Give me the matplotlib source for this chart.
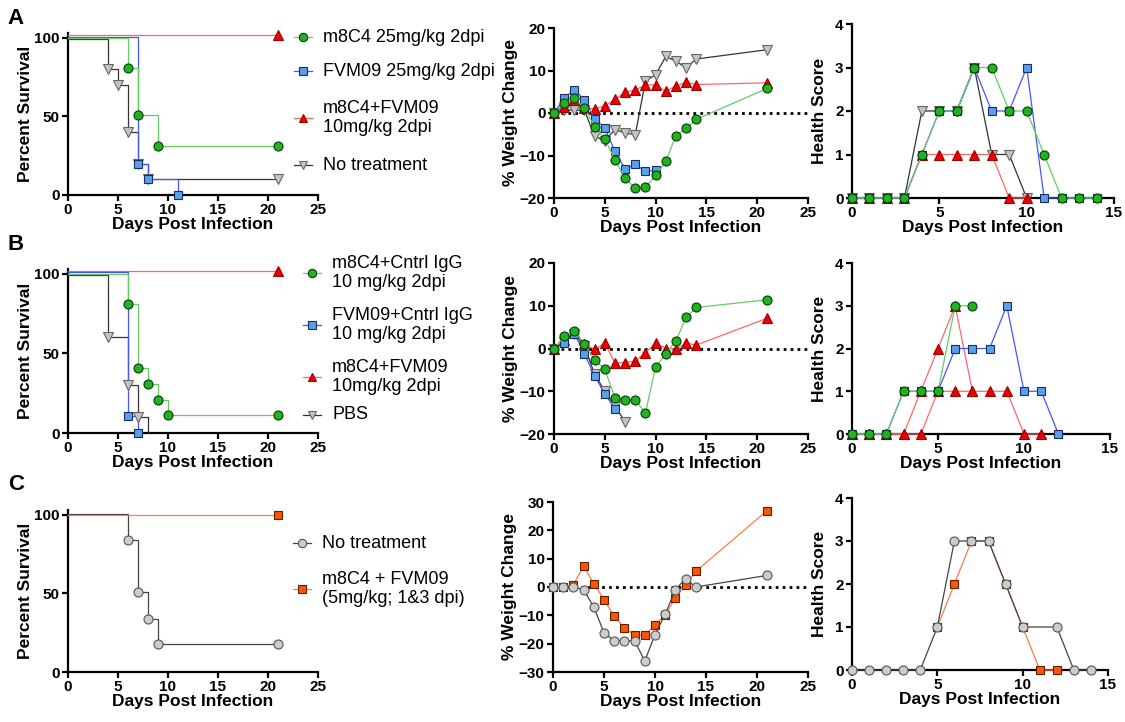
import numpy as np
import matplotlib.pyplot as plt
from matplotlib.lines import Line2D

plt.rcParams['font.family'] = ['Liberation Sans', 'DejaVu Sans']

# ---------------- data ----------------
# survival (step curves): event days and percent survival
a_s_m8c4_t = [0, 6, 7, 9, 21]
a_s_m8c4 = [100, 81, 51, 31, 31]
a_s_fvm_t = [0, 7, 8, 11]
a_s_fvm = [100.5, 20, 10, 0]
a_s_combo_t = [0, 21]
a_s_combo = [102, 102]
a_s_none_t = [0, 4, 5, 6, 7, 8, 21]
a_s_none = [99, 80, 70, 40, 20, 10, 10]

b_s_m8c4_t = [0, 6, 7, 8, 9, 10, 21]
b_s_m8c4 = [100, 81, 41, 31, 21, 11, 11]
b_s_fvm_t = [0, 6, 7]
b_s_fvm = [101, 10.5, 0]
b_s_combo_t = [0, 21]
b_s_combo = [102, 102]
b_s_pbs_t = [0, 4, 6, 7, 8]
b_s_pbs = [99, 60, 30, 10, 0]

c_s_none_t = [0, 6, 7, 8, 9, 21]
c_s_none = [100.5, 84, 51, 34, 17.5, 17.5]
c_s_combo_t = [0, 21]
c_s_combo = [100, 100]

# weight change (%)
wdays = list(range(15)) + [21]
a_w_m8c4 = [0, 2.4, 3.5, 1.2, -3.3, -6.1, -11, -15.4, -17.7, -17.5, -14.7, -11.4, -5.3, -3.6, -1.5, 5.8]
a_w_fvm = [0, 3.5, 5.5, 3.1, -1.3, -3.5, -9, -13.1, -12.1, -13.7, -13.5]
a_w_combo = [0, 1.3, 3.0, 1.2, 1.0, 1.7, 3.2, 4.9, 5.4, 6.6, 6.6, 5.1, 6.4, 7.2, 6.7, 7.1]
a_w_none = [0, 0.8, 0.6, 0.6, -5.5, -6.5, -3.9, -4.7, -5.1, 7.5, 9.0, 13.3, 12.2, 10.6, 12.7, 14.9]

b_w_m8c4 = [0, 2.9, 4.2, 1.0, -2.6, -4.9, -11.5, -12, -12, -15.1, -4.3, -1.3, 1.8, 7.3, 9.6, 11.4]
b_w_fvm = [0, 1.2, 3.5, -1.3, -6.4, -10.6, -14.1]
b_w_combo = [0, 2.0, 3.8, 1.0, -0.2, 1.2, -3.4, -3.3, -2.9, -1.0, 1.2, 0, -0.2, 1.3, 0.8, 7.1]
b_w_pbs = [0, 1.5, 3.5, 0.5, -6.0, -10.0, -13.5, -17.1]

c_w_combo = [0, 0, 0.8, 7.4, 1.2, -4.5, -10.2, -14.5, -16.8, -17.1, -13.3, -10, -3.8, 0.8, 5.5, 27]
c_w_none = [0, 0, 0, -0.9, -7.1, -16.1, -19, -19, -19, -26.1, -16.8, -9.6, -0.9, 2.9, 0, 4.1]

# health score
hdays = list(range(15))
a_h_m8c4 = [0, 0, 0, 0, 1, 2, 2, 3, 3, 2, 2, 1, 0, 0, 0]
a_h_fvm = [0, 0, 0, 0, 1, 2, 2, 3, 2, 2, 3, 0, 0, 0, 0]
a_h_combo = [0, 0, 0, 0, 1, 1, 1, 1, 1, 0, 0]
a_h_none = [0, 0, 0, 0, 2, 2, 2, 3, 1, 1, 0]

b_h_m8c4 = [0, 0, 0, 1, 1, 1, 3, 3]
b_h_fvm = [0, 0, 0, 1, 1, 1, 2, 2, 2, 3, 1, 1, 0]
b_h_combo = [0, 0, 0, 0, 0, 1, 1, 1, 1, 1, 0, 0]
b_h_pbs = [0, 0, 0, 0, 1, 2, 3, 1]

c_h_none_d = [0, 1, 2, 3, 4, 5, 6, 7, 8, 9, 10, 12, 13, 14]
c_h_none = [0, 0, 0, 0, 0, 1, 3, 3, 3, 2, 1, 1, 0, 0]
c_h_combo_d = [5, 6, 7, 8, 9, 10, 11, 12]
c_h_combo = [1, 2, 3, 3, 2, 1, 0, 0]

leg_a = ['m8C4 25mg/kg 2dpi', 'FVM09 25mg/kg 2dpi', 'm8C4+FVM09\n10mg/kg 2dpi', 'No treatment']
leg_b = ['m8C4+Cntrl IgG\n10 mg/kg 2dpi', 'FVM09+Cntrl IgG\n10 mg/kg 2dpi', 'm8C4+FVM09\n10mg/kg 2dpi', 'PBS']
leg_c = ['No treatment', 'm8C4 + FVM09\n(5mg/kg; 1&3 dpi)']

# ---------------- styles ----------------
GREEN = dict(marker='o', mfc='#1fb31f', mec='#0a3a0a', color='#66cc66', ms=6.5)
BLUE = dict(marker='s', mfc='#57a0ee', mec='#1c2c5c', color='#4455ff', ms=6)
RED = dict(marker='^', mfc='#ee0000', mec='#990000', color='#ff6666', ms=6.5)
GRAY = dict(marker='v', mfc='#c4c4c4', mec='#666666', color='#333333', ms=6.5)
GRAYC = dict(marker='o', mfc='#cccccc', mec='#555555', color='#444444', ms=6.5)
ORANGE = dict(marker='s', mfc='#ff5500', mec='#5a2000', color='#ff7a45', ms=6)

fig = plt.figure(figsize=(11.25, 7.22), dpi=100)
W, H = 1125.0, 722.0


def make_ax(x0, x1, ytop, ybot):
    return fig.add_axes([x0 / W, 1 - ybot / H, (x1 - x0) / W, (ybot - ytop) / H])


def style(ax, xmax, ylim, yticks, ylabel, lp):
    ax.spines[['top', 'right']].set_visible(False)
    for s in ['left', 'bottom']:
        ax.spines[s].set_linewidth(1.6)
    ax.set_xlim(0, xmax)
    ax.set_ylim(*ylim)
    ax.set_xticks(np.arange(0, xmax + 1, 5))
    ax.set_yticks(yticks)
    ax.tick_params(width=1.6, length=4, labelsize=11, pad=2)
    for lab in ax.get_xticklabels() + ax.get_yticklabels():
        lab.set_fontweight('bold')
    ax.set_xlabel('Days Post Infection', fontsize=12.5, fontweight='bold', labelpad=0)
    ax.set_ylabel(ylabel, fontsize=12.5, fontweight='bold', labelpad=lp)


def surv(ax, t, v, st, nmark=None):
    ax.step(t, v, where='post', color=st['color'], lw=0.9, clip_on=False, zorder=3)
    k = len(t) if nmark is None else nmark + 1
    ax.plot(t[1:k], v[1:k], ls='none', marker=st['marker'], ms=st['ms'], mfc=st['mfc'],
            mec=st['mec'], mew=0.8, clip_on=False, zorder=4)


def line(ax, x, y, st, z=3):
    ax.plot(x, y, color=st['color'], lw=0.9, marker=st['marker'], ms=st['ms'], mfc=st['mfc'],
            mec=st['mec'], mew=0.8, clip_on=False, zorder=z)


def zero(ax):
    ax.plot([0, 25], [0, 0], color='black', lw=2, ls=(0, (1, 1.5)), zorder=2)


def legend_entry(x, y, label, st):
    fig.add_artist(Line2D([(x - 9) / W, (x + 9) / W], [1 - y / H, 1 - y / H],
                          color=st['color'], lw=0.9))
    fig.add_artist(Line2D([x / W], [1 - y / H], marker=st['marker'], ms=st['ms'] - 0.5,
                          mfc=st['mfc'], mec=st['mec'], mew=0.8, ls='none'))
    fig.text((x + 20) / W, 1 - y / H, label, fontsize=13, va='center', ha='left',
             linespacing=1.15)


# ---------------- row A ----------------
ax = make_ax(68, 318, 33, 195)
style(ax, 25, (0, 103), [0, 50, 100], 'Percent Survival', 1)
surv(ax, a_s_none_t, a_s_none, GRAY)
surv(ax, a_s_combo_t, a_s_combo, RED)
surv(ax, a_s_fvm_t, a_s_fvm, BLUE)
surv(ax, a_s_m8c4_t, a_s_m8c4, GREEN)

ax = make_ax(554, 808, 28, 198)
style(ax, 25, (-20, 20), [-20, -10, 0, 10, 20], '% Weight Change', 1)
zero(ax)
line(ax, wdays, a_w_none, GRAY)
line(ax, wdays, a_w_combo, RED)
line(ax, wdays[:len(a_w_fvm)], a_w_fvm, BLUE)
line(ax, wdays, a_w_m8c4, GREEN)

ax = make_ax(852, 1114, 24, 198)
style(ax, 15, (0, 4), [0, 1, 2, 3, 4], 'Health Score', 6)
line(ax, hdays[:len(a_h_none)], a_h_none, GRAY)
line(ax, hdays[:len(a_h_combo)], a_h_combo, RED)
line(ax, hdays[:len(a_h_fvm)], a_h_fvm, BLUE)
line(ax, hdays, a_h_m8c4, GREEN)

for yy, lab, st in zip([37, 71, 118, 165], leg_a, [GREEN, BLUE, RED, GRAY]):
    legend_entry(303, yy, lab, st)

# ---------------- row B ----------------
ax = make_ax(68, 318, 269, 433)
style(ax, 25, (0, 103), [0, 50, 100], 'Percent Survival', 1)
surv(ax, b_s_pbs_t, b_s_pbs, GRAY, nmark=3)
surv(ax, b_s_combo_t, b_s_combo, RED)
surv(ax, b_s_fvm_t, b_s_fvm, BLUE)
surv(ax, b_s_m8c4_t, b_s_m8c4, GREEN)

ax = make_ax(554, 808, 263, 434)
style(ax, 25, (-20, 20), [-20, -10, 0, 10, 20], '% Weight Change', 1)
zero(ax)
line(ax, wdays[:len(b_w_pbs)], b_w_pbs, GRAY)
line(ax, wdays, b_w_combo, RED)
line(ax, wdays[:len(b_w_fvm)], b_w_fvm, BLUE)
line(ax, wdays, b_w_m8c4, GREEN)

ax = make_ax(852, 1110, 263, 434)
style(ax, 15, (0, 4), [0, 1, 2, 3, 4], 'Health Score', 6)
line(ax, hdays[:len(b_h_pbs)], b_h_pbs, RED)
line(ax, hdays[:len(b_h_combo)], b_h_combo, RED)
line(ax, hdays[:len(b_h_fvm)], b_h_fvm, BLUE)
line(ax, hdays[:len(b_h_m8c4)], b_h_m8c4, GREEN)

for yy, lab, st in zip([273, 325, 377, 415], leg_b, [GREEN, BLUE, RED, GRAY]):
    legend_entry(312, yy, lab, st)

# ---------------- row C ----------------
ax = make_ax(68, 318, 510, 672)
style(ax, 25, (0, 103), [0, 50, 100], 'Percent Survival', 1)
surv(ax, c_s_none_t, c_s_none, GRAYC)
surv(ax, c_s_combo_t, c_s_combo, ORANGE)

ax = make_ax(553, 808, 502, 672)
style(ax, 25, (-30, 30), [-30, -20, -10, 0, 10, 20, 30], '% Weight Change', 1)
zero(ax)
line(ax, wdays, c_w_combo, ORANGE)
line(ax, wdays, c_w_none, GRAYC)

ax = make_ax(852, 1108, 498, 670)
style(ax, 15, (0, 4), [0, 1, 2, 3, 4], 'Health Score', 6)
line(ax, c_h_combo_d, c_h_combo, ORANGE)
line(ax, c_h_none_d, c_h_none, GRAYC)

for yy, lab, st in zip([543, 589], leg_c, [GRAYC, ORANGE]):
    legend_entry(302, yy, lab, st)

# panel letters
for lab, yy in zip(['A', 'B', 'C'], [18, 245, 485]):
    fig.text(16 / W, 1 - yy / H, lab, fontsize=16, fontweight='bold', ha='center', va='center')

fig.savefig('out.png', dpi=100)
